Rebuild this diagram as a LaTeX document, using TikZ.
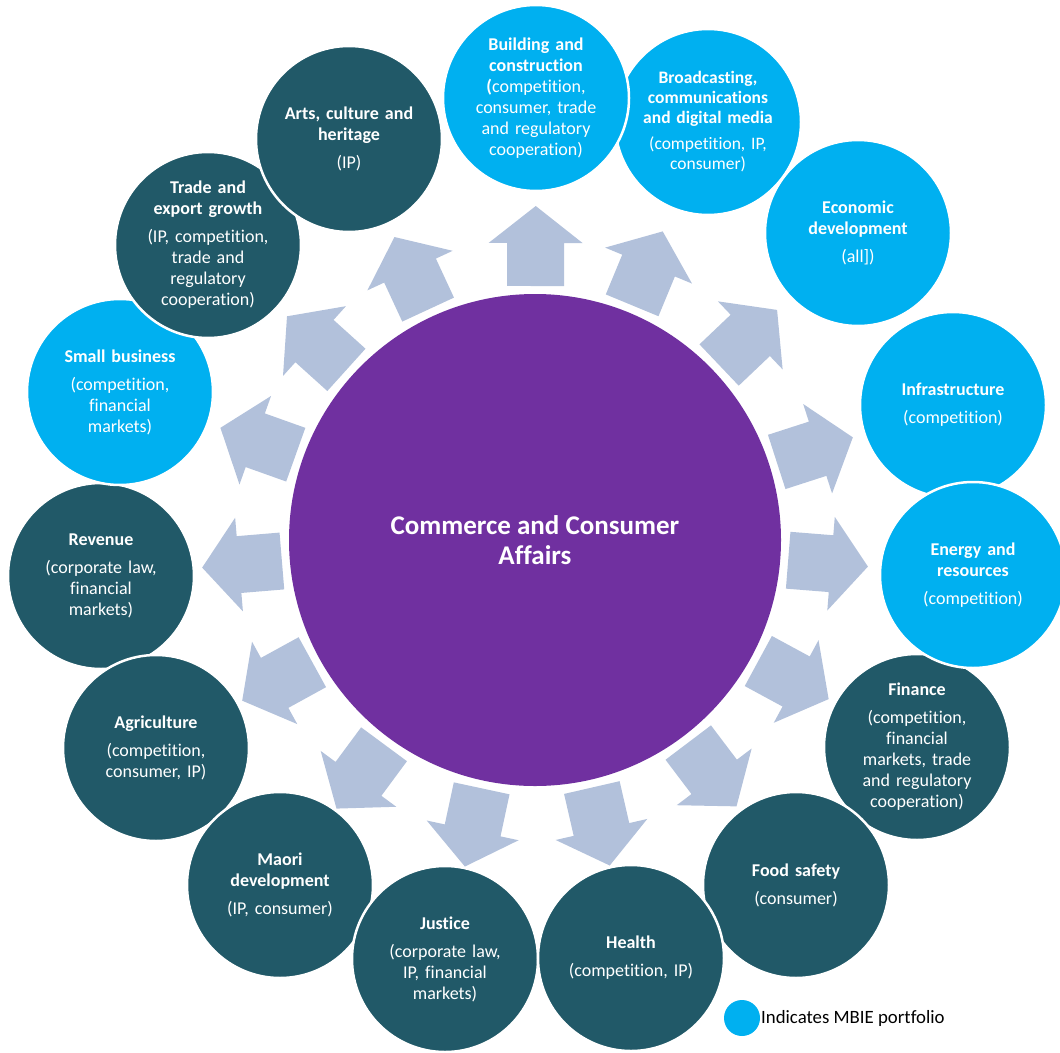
\documentclass[tikz,border=0pt]{standalone}
\usepackage{fontspec}
\setmainfont[Ligatures=NoCommon]{Carlito}
\usetikzlibrary{calc}
\definecolor{dteal}{HTML}{215968}
\definecolor{lblue}{HTML}{00B0F0}
\definecolor{cpurple}{HTML}{7030A0}
\definecolor{arrowc}{HTML}{B2C1DB}
\begin{document}
\begin{tikzpicture}[x=1pt,y=-1pt,
 bub/.style={circle, minimum size=186pt, inner sep=0pt, draw=white, line width=2.5pt},
 dk/.style={bub, fill=dteal},
 lt/.style={bub, fill=lblue},
 txt/.style={inner sep=0pt, text=white, align=center, text width=178pt, font=\fontsize{18}{21}\selectfont},
 blk/.style={fill=arrowc}]
\useasboundingbox (0,0) rectangle (1060,1052);
\node[circle, fill=cpurple, minimum size=492pt, inner sep=0pt, text=white, align=center, font=\bfseries\fontsize{27}{30}\selectfont] (C) at (535,540) {Commerce and Consumer\\Affairs};

\node[dk] (b12) at (101,576) {};
\node[txt] (t12) at (b12) {{\bfseries Revenue}\\[7pt](corporate law,\\financial\\markets)};
\node[dk] (b11) at (156,748) {};
\node[txt] (t11) at (b11) {{\bfseries Agriculture}\\[7pt](competition,\\consumer, IP)};
\node[dk] (b10) at (280,885) {};
\node[txt] (t10) at (b10) {{\bfseries Maori\\development}\\[7pt](IP, consumer)};
\node[dk] (b9) at (445,959) {};
\node[txt] (t9) at (b9) {{\bfseries Justice}\\[7pt](corporate law,\\IP, financial\\markets)};
\node[dk] (b6) at (917,747) {};
\node[txt] (t6) at (b6) {{\bfseries Finance}\\[7pt](competition,\\financial\\markets, trade\\and regulatory\\cooperation)};
\node[dk] (b7) at (796,885) {};
\node[txt] (t7) at (b7) {{\bfseries Food safety}\\[7pt](consumer)};
\node[dk] (b8) at (631,958) {};
\node[txt] (t8) at (b8) {{\bfseries Health}\\[7pt](competition, IP)};
\node[lt] (b4) at (953,405) {};
\node[txt] (t4) at (b4) {{\bfseries Infrastructure}\\[7pt](competition)};
\node[lt] (b5) at (973,575) {};
\node[txt] (t5) at (b5) {{\bfseries Energy and\\resources}\\[7pt](competition)};
\node[lt] (b2) at (708,122) {};
\node[txt, font=\fontsize{17.5}{20}\selectfont] (t2) at (b2) {{\bfseries Broadcasting,\\communications\\and digital media}\\[6pt](competition, IP,\\consumer)};
\node[lt] (b3) at (858,233) {};
\node[txt] (t3) at (b3) {{\bfseries Economic\\development}\\[7pt](all])};
\node[lt] (b13) at (120,392) {};
\node[txt] (t13) at (b13) {{\bfseries Small business}\\[7pt](competition,\\financial\\markets)};
\node[dk] (b14) at (208,245) {};
\node[txt] (t14) at (b14) {{\bfseries Trade and\\export growth}\\[7pt](IP, competition,\\trade and\\regulatory\\cooperation)};
\node[dk] (b15) at (349,139) {};
\node[txt] (t15) at (b15) {{\bfseries Arts, culture and\\heritage}\\[7pt](IP)};
\node[lt] (b1) at (536,98) {};
\node[txt] (t1) at (b1) {{\bfseries Building and\\construction}\\{\bfseries(}competition,\\consumer, trade\\and regulatory\\cooperation)};

\foreach \n in {b1,b2,b3,b4,b5,b6,b7,b8,b9,b10,b11,b12,b13,b14,b15} {
  \coordinate (s0) at ($(C)!254pt!(\n)$);
  \coordinate (h0) at ($(C)!297pt!(\n)$);
  \coordinate (t0) at ($(C)!334pt!(\n)$);
  \fill[blk] ($(s0)!28.5pt!90:(\n)$) -- ($(h0)!28.5pt!90:(\n)$) -- ($(h0)!47pt!90:(\n)$) -- (t0)
     -- ($(h0)!47pt!-90:(\n)$) -- ($(h0)!28.5pt!-90:(\n)$) -- ($(s0)!28.5pt!-90:(\n)$) -- cycle;
}

\node[circle, fill=lblue, minimum size=36pt, inner sep=0pt] (leg) at (742,1018) {};
\node[anchor=west, inner sep=0pt, font=\fontsize{18.8}{21}\selectfont] (legt) at (761,1018) {Indicates MBIE portfolio};
\end{tikzpicture}
\end{document}
